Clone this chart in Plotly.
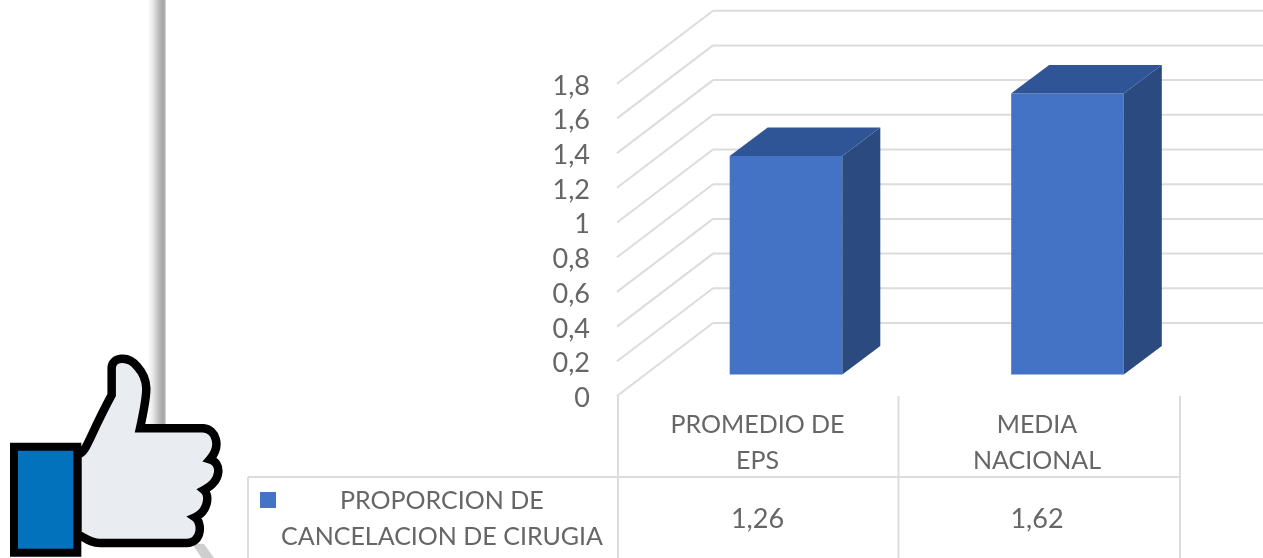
import plotly.graph_objects as go

# ---- data ----
category_line1 = ["PROMEDIO DE", "MEDIA"]
category_line2 = ["EPS", "NACIONAL"]
series_name = ["PROPORCION DE", "CANCELACION DE CIRUGIA"]
values = [1.26, 1.62]
y_ticks = [0, 0.2, 0.4, 0.6, 0.8, 1, 1.2, 1.4, 1.6, 1.8]
y_tick_labels = ["0", "0,2", "0,4", "0,6", "0,8", "1", "1,2", "1,4", "1,6", "1,8"]

W, H = 1263, 558
FONT = "Lato"
TXT = "#666666"
GRID = "#dcdcdc"
FRONT, TOP, SIDE = "#4472C4", "#2F5597", "#2A4A80"

# ---- projection of the pseudo-3D chart ----
X_UNIT = 281.5      # pixels per category
Y_UNIT = 173.5      # pixels per value unit
BAR_X0 = 786.0      # centre of the first bar
BAR_Y0 = 374.5      # base line of the bars
BAR_W = 0.4
FS = 25
FS_NUM = 27


def px(v):
    return (v - BAR_X0) / X_UNIT


def py(v):
    return (BAR_Y0 - v) / Y_UNIT


def fx(v):
    return v / W


def fy(v):
    return 1 - v / H


xr = [px(0), px(W)]
yr = [py(H), py(0)]
dep_x, dep_y = 38 / X_UNIT, 28.5 / Y_UNIT

T_UNIT = 279.5      # pixels per category in the table
T_CX = 757.5        # centre of the first table column
FRONT_Y0 = 396.0    # zero line on the front plane
LABEL_Y0 = 397.5    # zero of the tick-label axis


def ty(v):
    return (LABEL_Y0 - v) / Y_UNIT


fig = go.Figure()
fig.add_trace(go.Bar(x=[0, 1], y=values, width=BAR_W, marker=dict(color=FRONT, line=dict(width=0))))

for i, v in enumerate(values):
    r, l = i + BAR_W / 2, i - BAR_W / 2
    fig.add_trace(go.Scatter(x=[r, r, r + dep_x, r + dep_x, r], y=[0, v, v + dep_y, dep_y, 0],
                             mode="lines", fill="toself", fillcolor=SIDE, line=dict(width=0)))
    fig.add_trace(go.Scatter(x=[l, r, r + dep_x, l + dep_x, l], y=[v, v, v + dep_y, v + dep_y, v],
                             mode="lines", fill="toself", fillcolor=TOP, line=dict(width=0)))

# category labels and value row of the data table
for text, row_y, size in (
    (category_line1, 427, FS),
    (category_line2, 463, FS),
    ([f"{v:.2f}".replace(".", ",") for v in values], 521, FS_NUM),
):
    fig.add_trace(go.Scatter(x=[0, 1], y=[ty(row_y)] * 2, xaxis="x2", yaxis="y2", mode="text", text=text,
                             textposition="middle center",
                             textfont=dict(family=FONT, size=size, color=TXT)))

shapes = []


def line(x0, y0, x1, y1, color=GRID, width=2, layer="below"):
    shapes.append(dict(type="line", xref="paper", yref="paper", x0=fx(x0), y0=fy(y0), x1=fx(x1), y1=fy(y1),
                       line=dict(color=color, width=width), layer=layer))


# walls: side/back gridlines
for t in y_ticks:
    f_y = FRONT_Y0 - t * Y_UNIT
    b_y = 323 - t * Y_UNIT
    line(617, f_y, 713, b_y)
    line(713, b_y, W, b_y)

# data table rules
line(248, 477, 1180, 477)
line(248, 477, 248, H)
for xv in (618, 898.5, 1180):
    line(xv, 396, xv, H)

# legend key
shapes.append(dict(type="rect", xref="paper", yref="paper", x0=fx(260), x1=fx(276), y0=fy(492), y1=fy(508),
                   fillcolor=FRONT, line=dict(width=0)))

# page-edge shadow on the left
shades = ["#fbfbfb", "#f7f7f7", "#f3f3f3", "#eeeeee", "#e9e9e9", "#e3e3e3", "#dcdcdc", "#d5d5d5", "#cdcdcd",
          "#c6c6c6", "#bfbfbf", "#b8b8b8", "#b2b2b2", "#adadad", "#aaaaaa", "#a8a8a8", "#b0b0b0", "#cfcfcf"]
for i, c in enumerate(shades):
    shapes.append(dict(type="rect", xref="paper", yref="paper", x0=fx(148 + i), x1=fx(149 + i), y0=fy(0), y1=fy(445),
                       fillcolor=c, line=dict(width=0), layer="below"))


# thumbs-up icon, outline given in a 3x grid with its origin at (0, 340)
def ipt(a, b):
    return f"{fx(a / 3):.5f},{fy(340 + b / 3):.5f}"


def ipath(cmds):
    out = []
    for c, pts in cmds:
        out.append(c + " ".join(ipt(*p) for p in pts))
    return " ".join(out) + " Z"


shadow = [("M", [(575, 610)]), ("L", [(612, 612)]), ("L", [(642, 654)]), ("L", [(605, 654)])]
shapes.append(dict(type="path", xref="paper", yref="paper", path=ipath(shadow), fillcolor="#cfcfcf", line=dict(width=0)))

hand = [
    ("M", [(232, 345)]),
    ("C", [(262, 335), (262, 300), (335, 165)]),
    ("L", [(335, 85)]),
    ("C", [(335, 50), (385, 45), (412, 80)]),
    ("C", [(448, 120), (445, 150), (420, 265)]),
    ("L", [(610, 265)]),
    ("C", [(648, 268), (665, 318), (630, 358)]),
    ("C", [(664, 368), (668, 420), (612, 450)]),
    ("C", [(630, 465), (624, 515), (585, 532)]),
    ("C", [(608, 548), (606, 609), (560, 609)]),
    ("L", [(300, 609)]),
    ("C", [(275, 609), (260, 597), (232, 582)]),
]
shapes.append(dict(type="path", xref="paper", yref="paper", path=ipath(hand), fillcolor="#E9EDF1",
                   line=dict(color="#000000", width=8.5)))
cuff = [("M", [(42, 320)]), ("L", [(232, 320)]), ("L", [(232, 638)]), ("L", [(42, 638)])]
shapes.append(dict(type="path", xref="paper", yref="paper", path=ipath(cuff), fillcolor="#0272BD",
                   line=dict(color="#000000", width=8)))

annotations = [
    dict(xref="paper", yref="paper", x=fx(442), y=fy(499), text=series_name[0], showarrow=False,
         xanchor="center", yanchor="middle", font=dict(family=FONT, size=FS, color=TXT)),
    dict(xref="paper", yref="paper", x=fx(442), y=fy(534.5), text=series_name[1], showarrow=False,
         xanchor="center", yanchor="middle", font=dict(family=FONT, size=FS, color=TXT)),
]

fig.update_layout(
    width=W, height=H, margin=dict(l=0, r=0, t=0, b=0, pad=0),
    paper_bgcolor="white", plot_bgcolor="white", showlegend=False, hovermode=False,
    shapes=shapes, annotations=annotations,
    xaxis=dict(range=xr, visible=False, domain=[0, 1]),
    yaxis=dict(range=yr, visible=False, domain=[0, 1]),
    xaxis2=dict(overlaying="x", visible=False,
                range=[(0 - T_CX) / T_UNIT, (W - T_CX) / T_UNIT]),
    yaxis2=dict(overlaying="y", anchor="free", position=fx(590), side="left",
                range=[(LABEL_Y0 - H) / Y_UNIT, LABEL_Y0 / Y_UNIT],
                tickmode="array", tickvals=y_ticks, ticktext=y_tick_labels, ticklen=0,
                showgrid=False, zeroline=False, showline=False,
                tickfont=dict(family=FONT, size=FS_NUM, color=TXT)),
)

fig.write_html("out.html", config=dict(displayModeBar=False),
               post_script="document.body.style.margin='0';document.body.style.overflow='hidden';"
                           "document.querySelector('.plotly-graph-div').style.filter='blur(0.6px)';")
